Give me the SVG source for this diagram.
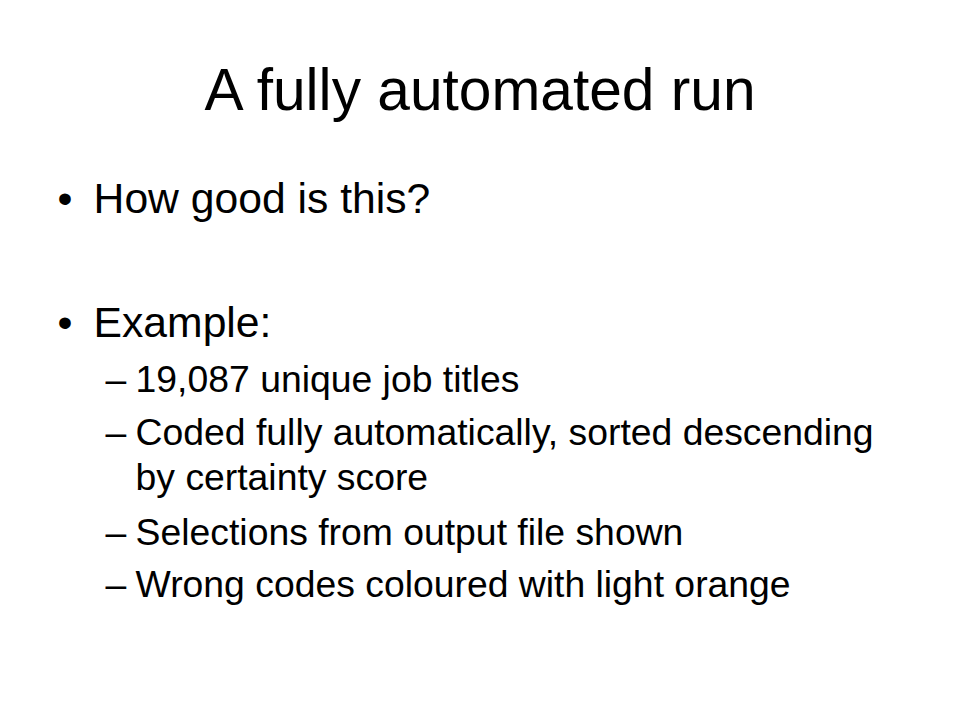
<svg xmlns="http://www.w3.org/2000/svg" width="960" height="720" viewBox="0 0 960 720">
<style>
text { font-family: "Liberation Sans", Arial, sans-serif; fill: #000; }
.title { font-size: 58.67px; }
.l1 { font-size: 42.67px; }
.l2 { font-size: 37.33px; }
</style>
<rect width="960" height="720" fill="#fff"/>
<g id="title"><text class="title" x="480" y="110" text-anchor="middle">A fully automated run</text></g>
<g id="bullets">
<text class="l1" x="57.6" y="213">•</text><text class="l1" x="93.6" y="213">How good is this?</text>
<text class="l1" x="57.6" y="337">•</text><text class="l1" x="93.6" y="337">Example:</text>
<text class="l2" x="105.6" y="392">–</text><text class="l2" x="135.6" y="392">19,087 unique job titles</text>
<text class="l2" x="105.6" y="445">–</text><text class="l2" x="135.6" y="445">Coded fully automatically, sorted descending</text>
<text class="l2" x="135.6" y="490">by certainty score</text>
<text class="l2" x="105.6" y="545">–</text><text class="l2" x="135.6" y="545">Selections from output file shown</text>
<text class="l2" x="105.6" y="597">–</text><text class="l2" x="135.6" y="597">Wrong codes coloured with light orange</text>
</g>
</svg>
